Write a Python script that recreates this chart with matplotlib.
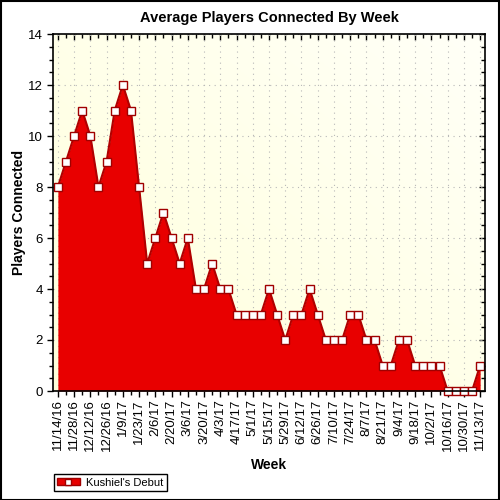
import numpy as np
import matplotlib
matplotlib.use('Agg')
import matplotlib.pyplot as plt
from matplotlib.patches import Rectangle, Patch
from matplotlib.lines import Line2D
from matplotlib.ticker import MultipleLocator

plt.rcParams['font.family'] = ['Liberation Sans', 'DejaVu Sans']

# weekly averages, 11/14/16 .. 11/13/17
players = [8, 9, 10, 11, 10, 8, 9, 11, 12, 11, 8, 5, 6, 7, 6, 5, 6, 4, 4, 5,
           4, 4, 3, 3, 3, 3, 4, 3, 2, 3, 3, 4, 3, 2, 2, 2, 3, 3, 2, 2,
           1, 1, 2, 2, 1, 1, 1, 1, 0, 0, 0, 0, 1]
weekLabels = ['11/14/16', '11/28/16', '12/12/16', '12/26/16', '1/9/17', '1/23/17',
              '2/6/17', '2/20/17', '3/6/17', '3/20/17', '4/3/17', '4/17/17',
              '5/1/17', '5/15/17', '5/29/17', '6/12/17', '6/26/17', '7/10/17',
              '7/24/17', '8/7/17', '8/21/17', '9/4/17', '9/18/17', '10/2/17',
              '10/16/17', '10/30/17', '11/13/17']
seriesName = "Kushiel's Debut"

weeks = np.arange(len(players))

fig = plt.figure(figsize=(5, 5), dpi=100)
fig.patch.set_facecolor('white')
ax = fig.add_axes([0.106, 0.218, 0.864, 0.714])

xmin, xmax = -0.6, 52.6
ax.set_xlim(xmin, xmax)
ax.set_ylim(0, 14)

# background gradient, light yellow to near white at top right
gx, gy = np.meshgrid(np.linspace(0, 1, 200), np.linspace(0, 1, 200))
g = (gx + gy) / 2
c0 = np.array([1.0, 1.0, 0.86])
c1 = np.array([1.0, 1.0, 0.97])
img = c0[None, None, :] * (1 - g[..., None]) + c1[None, None, :] * g[..., None]
ax.imshow(img, extent=[xmin, xmax, 0, 14], origin='lower', aspect='auto', zorder=0)

ax.grid(True, which='major', color='#b8b8b8', ls=(0, (1, 4)), lw=0.8, zorder=1)

ax.fill_between(weeks, players, 0, color='#e80000', lw=0, zorder=2)
ax.plot(weeks, players, color='#b00000', lw=1.5, zorder=3)
ax.plot(weeks, players, ls='none', marker='s', ms=5.8, mfc='white', mec='#a00000',
        mew=1.0, zorder=4, clip_on=False)

ax.set_xticks(weeks[::2])
ax.set_xticklabels(weekLabels, rotation=90, fontsize=9)
ax.xaxis.set_minor_locator(MultipleLocator(1))
ax.yaxis.set_major_locator(MultipleLocator(2))
ax.yaxis.set_minor_locator(MultipleLocator(0.5))
ax.tick_params(axis='both', which='major', direction='out', length=4, width=1,
               labelsize=9.5)
ax.tick_params(axis='both', which='minor', direction='out', length=3, width=1)
for sec in (ax.secondary_xaxis('top'), ax.secondary_yaxis('right')):
    sec.tick_params(which='major', direction='in', length=4, width=1, labelsize=0)
    sec.tick_params(which='minor', direction='in', length=3, width=1)
    sec.spines[:].set_visible(False)
sx, sy = ax.child_axes[-2], ax.child_axes[-1]
sx.set_xticks(weeks[::2])
sx.set_xticklabels([])
sx.xaxis.set_minor_locator(MultipleLocator(1))
sy.yaxis.set_major_locator(MultipleLocator(2))
sy.yaxis.set_minor_locator(MultipleLocator(0.5))
sy.set_yticklabels([])
ax.tick_params(axis='x', which='major', pad=2)
for sp in ax.spines.values():
    sp.set_linewidth(1.2)
    sp.set_zorder(5)

ax.set_title('Average Players Connected By Week', fontsize=10.5, fontweight='bold', pad=9)
ax.set_ylabel('Players Connected', fontsize=10, fontweight='bold', labelpad=1)
ax.set_xlabel('Week', fontsize=10, fontweight='bold', labelpad=5)

handle = (Patch(facecolor='#e80000', edgecolor='#a00000'),
          Line2D([], [], ls='none', marker='s', ms=5, mfc='white', mec='#a00000'))
leg = fig.legend([handle], [seriesName], loc='lower left', bbox_to_anchor=(0.108, 0.018),
                 fontsize=8, frameon=True, fancybox=False, edgecolor='black',
                 framealpha=1, borderpad=0.3, handlelength=2.0, handleheight=0.6,
                 handletextpad=0.6, borderaxespad=0)
leg.get_frame().set_linewidth(1.0)

fig.patches.append(Rectangle((0.001, 0.001), 0.997, 0.997, transform=fig.transFigure,
                             fill=False, edgecolor='black', lw=1.5))

fig.savefig('out.png', dpi=100)
